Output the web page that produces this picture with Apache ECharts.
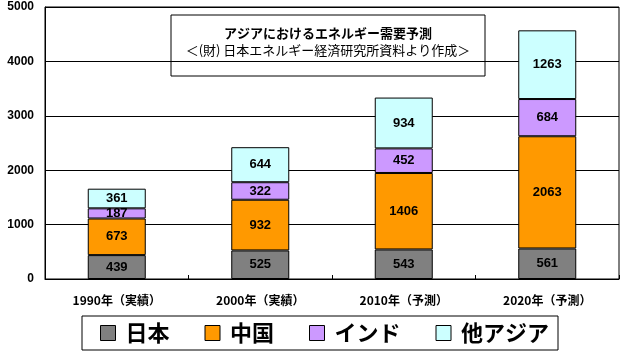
<!DOCTYPE html>
<html><head><meta charset="utf-8">
<script src="https://cdn.jsdelivr.net/npm/echarts@6/dist/echarts.min.js"></script>
<style>html,body{margin:0;padding:0;background:#fff}#c{width:626px;height:360px}</style>
</head><body><div id="c"></div>
<script>
const categories = ['1990年（実績）', '2000年（実績）', '2010年（予測）', '2020年（予測）'];
const japan = [439, 525, 543, 561];
const china = [673, 932, 1406, 2063];
const india = [187, 322, 452, 684];
const otherAsia = [361, 644, 934, 1263];
const seriesNames = ['日本', '中国', 'インド', '他アジア'];
const colors = ['#808080', '#FF9900', '#CC99FF', '#CCFFFF'];
const yTicks = { min: 0, max: 5000, interval: 1000 };

const FONT_NUM = '"Liberation Sans", Arial, sans-serif';
const FONT_JP = '"Noto Sans CJK JP", sans-serif';

const dataSets = [japan, china, india, otherAsia];
const chart = echarts.init(document.getElementById('c'), null, { renderer: 'canvas' });
chart.setOption({
  animation: false,
  backgroundColor: '#fff',
  grid: { left: 45, top: 7, right: 7, bottom: 81, show: true, borderColor: '#000', borderWidth: 1, backgroundColor: '#fff' },
  xAxis: {
    type: 'category', data: categories,
    axisLine: { lineStyle: { color: '#000', width: 1 } },
    axisTick: { show: true, inside: true, length: 4, lineStyle: { color: '#000' } },
    axisLabel: { color: '#000', fontWeight: 'bold', fontSize: 12, fontFamily: FONT_JP, margin: 15 }
  },
  yAxis: {
    type: 'value', min: yTicks.min, max: yTicks.max, interval: yTicks.interval,
    axisLine: { show: true, lineStyle: { color: '#000', width: 1 } },
    axisTick: { show: false },
    splitLine: { lineStyle: { color: '#000', width: 1 } },
    axisLabel: { color: '#000', fontWeight: 'bold', fontSize: 12, fontFamily: FONT_NUM, margin: 11, formatter: v => String(v) }
  },
  legend: {
    data: seriesNames,
    left: 82, top: 316,
    padding: [6, 9, 6, 18],
    borderColor: '#000', borderWidth: 1,
    itemWidth: 15, itemHeight: 15, itemGap: 35,
    icon: 'rect',
    textStyle: { color: '#000', fontSize: 22, fontWeight: 'bold', fontFamily: FONT_JP, padding: [0, 0, 0, 5] },
    itemStyle: { borderColor: '#000', borderWidth: 1 }
  },
  graphic: [{
    type: 'group', z: 100,
    children: [
      { type: 'rect', shape: { x: 171, y: 15, width: 314, height: 61 }, style: { fill: '#fff', stroke: '#000', lineWidth: 1 } },
      { type: 'text', x: 328, y: 33, style: { text: 'アジアにおけるエネルギー需要予測', fill: '#000', font: 'bold 13px ' + FONT_JP, textAlign: 'center', textVerticalAlign: 'middle' } },
      { type: 'text', x: 328, y: 50, style: { text: '＜(財) 日本エネルギー経済研究所資料より作成＞', fill: '#000', font: '13px ' + FONT_JP, textAlign: 'center', textVerticalAlign: 'middle' } }
    ]
  }],
  series: seriesNames.map((name, i) => ({
    name, type: 'bar', stack: 'total', data: dataSets[i], barWidth: 58,
    itemStyle: { color: colors[i], borderColor: '#000', borderWidth: 1 },
    label: { show: true, position: 'inside', color: '#000', fontWeight: 'bold', fontSize: 13, fontFamily: FONT_NUM }
  }))
});
</script></body></html>
